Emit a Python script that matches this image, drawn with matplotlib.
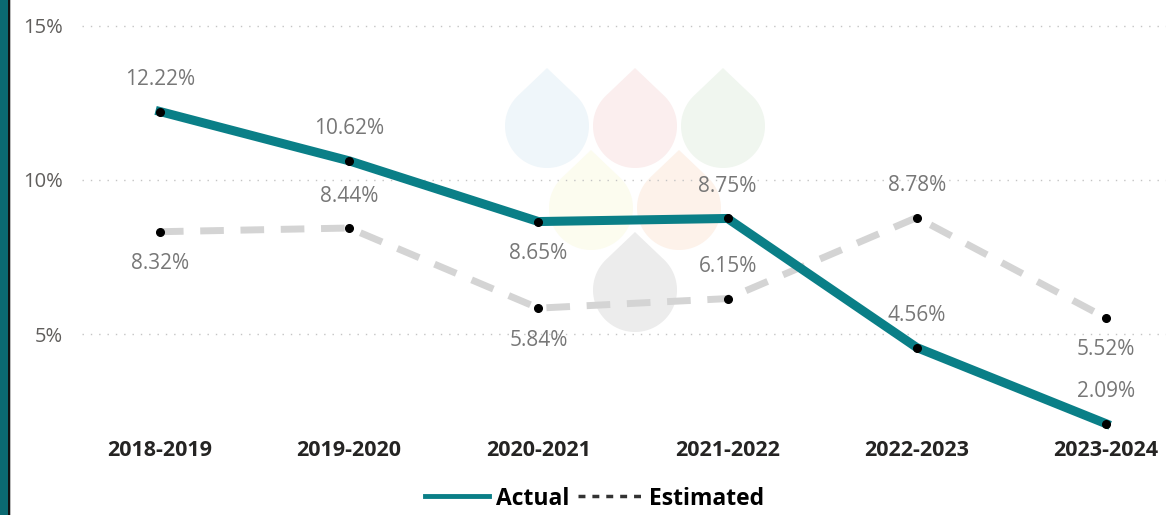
import matplotlib
matplotlib.use("Agg")
import matplotlib.pyplot as plt
from matplotlib.lines import Line2D
from matplotlib.patches import Polygon, Rectangle
import numpy as np

plt.rcParams['font.family'] = ['Open Sans', 'DejaVu Sans']

years = ['2018-2019', '2019-2020', '2020-2021', '2021-2022', '2022-2023', '2023-2024']
actual = [12.22, 10.62, 8.65, 8.75, 4.56, 2.09]
estimated = [8.32, 8.44, 5.84, 6.15, 8.78, 5.52]
# label above (+1) or below (-1) the point
actual_side = [1, 1, -1, 1, 1, 1]
estimated_side = [-1, 1, -1, 1, 1, -1]
yticks = [5, 10, 15]

TEAL = '#0a7f87'
GREY_LINE = '#d4d4d4'
LABEL_C = '#777777'

W, H = 1166, 515
fig = plt.figure(figsize=(W / 100, H / 100), dpi=100)

# background watermark (faint drops) in pixel coords
bg = fig.add_axes([0, 0, 1, 1], zorder=0)
bg.set_xlim(0, W)
bg.set_ylim(H, 0)
bg.axis('off')

drops = [(547, 126, '#eff6fa'), (635, 126, '#fbeeee'), (723, 126, '#f0f6ef'),
         (591, 208, '#fcfcef'), (679, 208, '#fdf2ea'), (635, 290, '#ececec')]
r, d = 42, 58
alpha = np.arccos(r / d)
phi = np.linspace(alpha, 2 * np.pi - alpha, 80)
for cx, cy, col in drops:
    xs = cx + r * np.sin(phi)
    ys = cy - r * np.cos(phi)
    pts = np.column_stack([np.r_[cx, xs], np.r_[cy - d, ys]])
    bg.add_patch(Polygon(pts, closed=True, facecolor=col, edgecolor='none'))

# left border strip
bg.add_patch(Rectangle((0, 0), 7.5, H, facecolor='#0b6a72', edgecolor='none'))
bg.add_patch(Rectangle((7.5, 0), 2.5, H, facecolor='#111111', edgecolor='none'))
bg.add_patch(Rectangle((10, 0), 1, H, facecolor='#bbbbbb', edgecolor='none'))

ax = fig.add_axes([82 / W, (H - 432) / H, (W - 82) / W, 432 / H], zorder=1)
ax.set_facecolor('none')

x = np.arange(len(years))
ax.plot(x, estimated, color=GREY_LINE, lw=5, dashes=(3.4, 2.4), dash_capstyle='butt',
        solid_capstyle='butt', zorder=2)
ax.plot(x, estimated, 'o', color='black', ms=5.5, zorder=4)
ax.plot(x, actual, color=TEAL, lw=6.5, solid_joinstyle='round', zorder=3)
ax.plot(x, actual, 'o', color='black', ms=5.5, zorder=4)

for xi, v, s in zip(x, actual, actual_side):
    ax.annotate(f'{v:.2f}%', (xi, v), xytext=(0, 23 * s), textcoords='offset points',
                ha='center', va='center', fontsize=15, color=LABEL_C, zorder=5)
for xi, v, s in zip(x, estimated, estimated_side):
    ax.annotate(f'{v:.2f}%', (xi, v), xytext=(0, 23 * s), textcoords='offset points',
                ha='center', va='center', fontsize=15, color=LABEL_C, zorder=5)

ax.set_xlim(-0.412, 5.317)
ax.set_ylim(1.82, 15.84)
ax.set_yticks(yticks)
ax.set_yticklabels([f'{t}%' for t in yticks])
ax.set_xticks(x)
ax.set_xticklabels(years, fontweight='bold')
ax.tick_params(axis='y', length=0, pad=14, labelsize=14.5, labelcolor='#605e5c')
ax.tick_params(axis='x', length=0, pad=6, labelsize=15.5, labelcolor='#252423')
ax.grid(axis='y', color='#c4c4c4', lw=1, linestyle=(0, (1, 5)))
for sp in ax.spines.values():
    sp.set_visible(False)

handles = [Line2D([], [], color=TEAL, lw=3.5),
           Line2D([], [], color='#333333', lw=2.5, dashes=(2, 2))]
leg = fig.legend(handles, ['Actual', 'Estimated'], loc='center', ncol=2,
                 bbox_to_anchor=(0.51, 0.032), frameon=False,
                 prop={'weight': 'bold', 'size': 16.5}, handlelength=2.8,
                 handletextpad=0.3, columnspacing=0.4, borderaxespad=0)

fig.savefig('out.png', dpi=100)
